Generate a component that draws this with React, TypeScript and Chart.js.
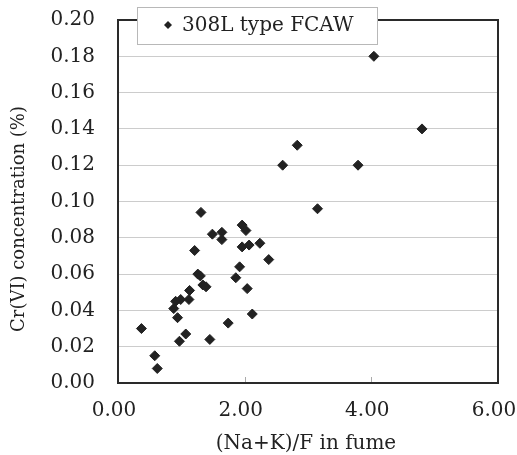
import React, { useEffect, useRef } from "react";
import { Chart, registerables } from "chart.js";

Chart.register(...registerables);

const seriesLabel = "308L type FCAW";
const xTitle = "(Na+K)/F in fume";
const yTitle = "Cr(VI) concentration (%)";

const xValues = [
  0.37, 0.58, 0.62, 1.31, 1.49, 1.64, 1.64, 1.96, 2.02, 1.96, 2.07, 2.24, 2.38,
  1.21, 1.26, 1.30, 1.34, 1.39, 1.13, 1.12, 0.99, 0.91, 0.88, 0.94, 1.07, 0.97,
  1.45, 1.74, 1.92, 1.86, 2.04, 2.12, 4.04, 4.80, 2.83, 2.60, 3.79, 3.15,
];
const yValues = [
  0.030, 0.015, 0.008, 0.094, 0.082, 0.083, 0.079, 0.087, 0.084, 0.075, 0.076, 0.077, 0.068,
  0.073, 0.060, 0.059, 0.054, 0.053, 0.051, 0.046, 0.046, 0.045, 0.041, 0.036, 0.027, 0.023,
  0.024, 0.033, 0.064, 0.058, 0.052, 0.038, 0.180, 0.140, 0.131, 0.120, 0.120, 0.096,
];

const FONT = "'DejaVu Serif', serif";
const INK = "#222222";

const decorPlugin = {
  id: "decor",
  afterDraw(chart: any) {
    const { ctx, chartArea } = chart;
    const xs = chart.scales.x;
    ctx.save();
    ctx.strokeStyle = "#aaaaaa";
    ctx.lineWidth = 1;
    [2, 4].forEach((v) => {
      const px = Math.round(xs.getPixelForValue(v)) + 0.5;
      ctx.beginPath();
      ctx.moveTo(px, chartArea.bottom);
      ctx.lineTo(px, chartArea.bottom - 6);
      ctx.stroke();
    });
    ctx.strokeStyle = "#2a2a2a";
    ctx.lineWidth = 2;
    ctx.strokeRect(chartArea.left, chartArea.top, chartArea.right - chartArea.left, chartArea.bottom - chartArea.top);
    ctx.fillStyle = "#ffffff";
    ctx.fillRect(137.5, 7.5, 240, 37);
    ctx.strokeStyle = "#b8b8b8";
    ctx.lineWidth = 1;
    ctx.strokeRect(137.5, 7.5, 240, 37);
    ctx.fillStyle = INK;
    ctx.beginPath();
    ctx.moveTo(168, 21);
    ctx.lineTo(172, 25);
    ctx.lineTo(168, 29);
    ctx.lineTo(164, 25);
    ctx.closePath();
    ctx.fill();
    ctx.font = "20px " + FONT;
    ctx.textAlign = "left";
    ctx.textBaseline = "middle";
    ctx.fillText(chart.data.datasets[0].label, 182, 26);
    ctx.textAlign = "center";
    ctx.fillText(xTitle, 306, 444);
    ctx.save();
    ctx.translate(19, 219);
    ctx.rotate(-Math.PI / 2);
    ctx.font = "18px " + FONT;
    ctx.fillText(yTitle, 0, 0);
    ctx.restore();
    ctx.restore();
  },
};

export default function App() {
  const ref = useRef<HTMLCanvasElement | null>(null);
  useEffect(() => {
    if (!ref.current) return;
    const data = xValues.map((x, i) => ({ x, y: yValues[i] }));
    const chart = new Chart(ref.current, {
      type: "scatter",
      data: {
        datasets: [
          {
            label: seriesLabel,
            data,
            pointStyle: "rectRot",
            pointRadius: 5,
            pointBorderWidth: 1,
            backgroundColor: INK,
            borderColor: INK,
          },
        ],
      },
      options: {
        animation: false,
        responsive: true,
        maintainAspectRatio: false,
        layout: { padding: { top: 20, right: 19, left: 0, bottom: 0 } },
        plugins: { legend: { display: false }, tooltip: { enabled: false } },
        scales: {
          x: {
            type: "linear",
            min: 0,
            max: 6,
            afterFit: (s: any) => {
              s.height = 72;
              s.paddingLeft = 0;
              s.paddingRight = 0;
            },
            grid: { display: false, drawTicks: false },
            border: { display: false },
            ticks: {
              stepSize: 2,
              padding: 16,
              labelOffset: -4,
              color: INK,
              font: { family: FONT, size: 20 },
              callback: (v: any) => Number(v).toFixed(2),
            },
          },
          y: {
            type: "linear",
            min: 0,
            max: 0.2,
            afterFit: (s: any) => {
              s.width = 118;
              s.paddingTop = 0;
              s.paddingBottom = 0;
            },
            grid: { color: "#cccccc", lineWidth: 1, drawTicks: false },
            border: { display: false },
            ticks: {
              stepSize: 0.02,
              padding: 23,
              color: INK,
              font: { family: FONT, size: 20 },
              callback: (v: any) => Number(v).toFixed(2),
            },
          },
        },
      },
      plugins: [decorPlugin],
    });
    return () => chart.destroy();
  }, []);
  return (
    <div style={{ position: "absolute", left: 0, top: 0, width: 517, height: 455, background: "#fff" }}>
      <canvas ref={ref} />
    </div>
  );
}
